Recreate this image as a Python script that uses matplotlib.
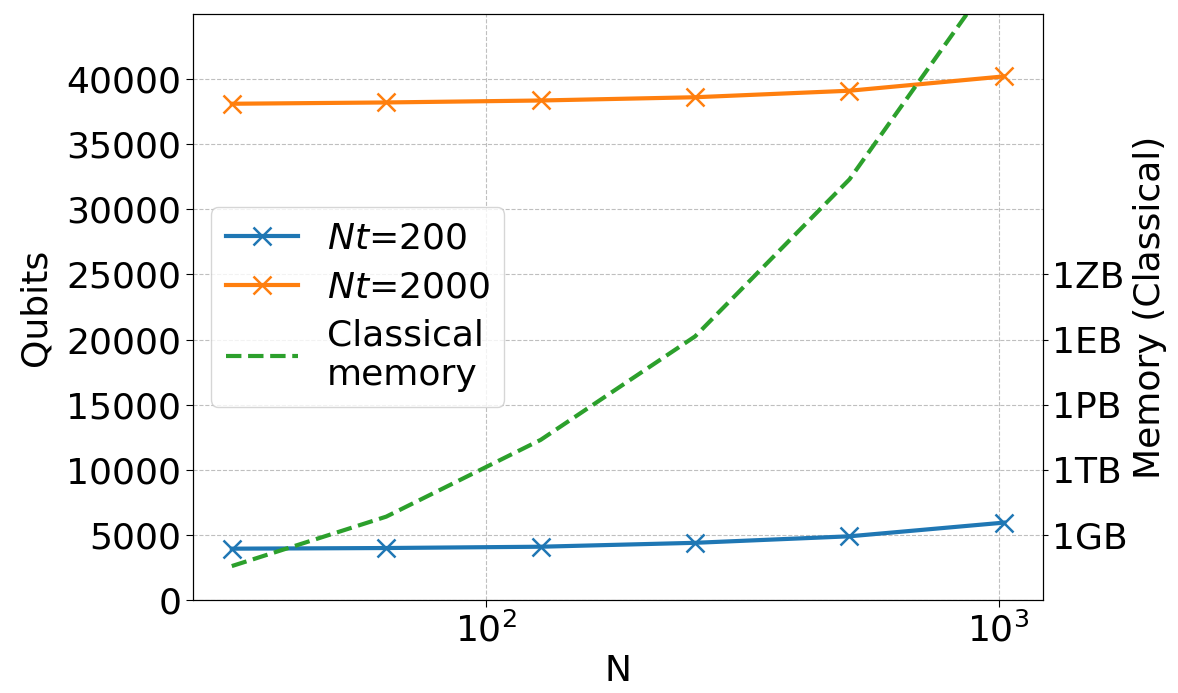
import matplotlib
matplotlib.use("Agg")
import matplotlib.pyplot as plt

# -------- DONNÉES --------
N = [32, 64, 128, 256, 512, 1024]
qubits_nt200 = [3950, 4000, 4100, 4400, 4900, 5950]
qubits_nt2000 = [38100, 38200, 38350, 38600, 39100, 40200]
memory_bytes = [3.7e7, 7e9, 2.4e13, 1.4e18, 2.4e25, 2.5e35]

mem_ticks = [1e9, 1e12, 1e15, 1e18, 1e21]
mem_labels = ["1GB", "1TB", "1PB", "1EB", "1ZB"]

plt.rcParams["font.size"] = 26

fig = plt.figure(figsize=(11.78, 6.93), dpi=100)
ax = fig.add_axes([0.164, 0.134, 0.721, 0.846])
ax2 = ax.twinx()

l1, = ax.plot(N, qubits_nt200, "x-", color="C0", lw=3, ms=13, mew=1.8, label="$Nt$=200")
l2, = ax.plot(N, qubits_nt2000, "x-", color="C1", lw=3, ms=13, mew=1.8, label="$Nt$=2000")
l3, = ax2.plot(N, memory_bytes, "--", color="C2", lw=3, label="Classical\nmemory")

ax.set_xscale("log")
ax.set_ylim(0, 45000)
ax.set_yticks(range(0, 45000, 5000))
ax.set_xlabel("N")
ax.set_ylabel("Qubits", labelpad=10)
ax.grid(True, which="major", linestyle="--", color="#b0b0b0", alpha=0.8)
ax.tick_params(which="major", length=5)

ax2.set_yscale("log")
ax2.set_ylim(1e6, 1e33)
ax2.set_yticks(mem_ticks)
ax2.set_yticklabels(mem_labels)
ax2.minorticks_off()
ax2.set_ylabel("Memory (Classical)")

ax2.legend(handles=[l1, l2, l3], loc="center left", framealpha=0.8,
           labelspacing=0.4, borderpad=0.4)

fig.savefig("out.png")
